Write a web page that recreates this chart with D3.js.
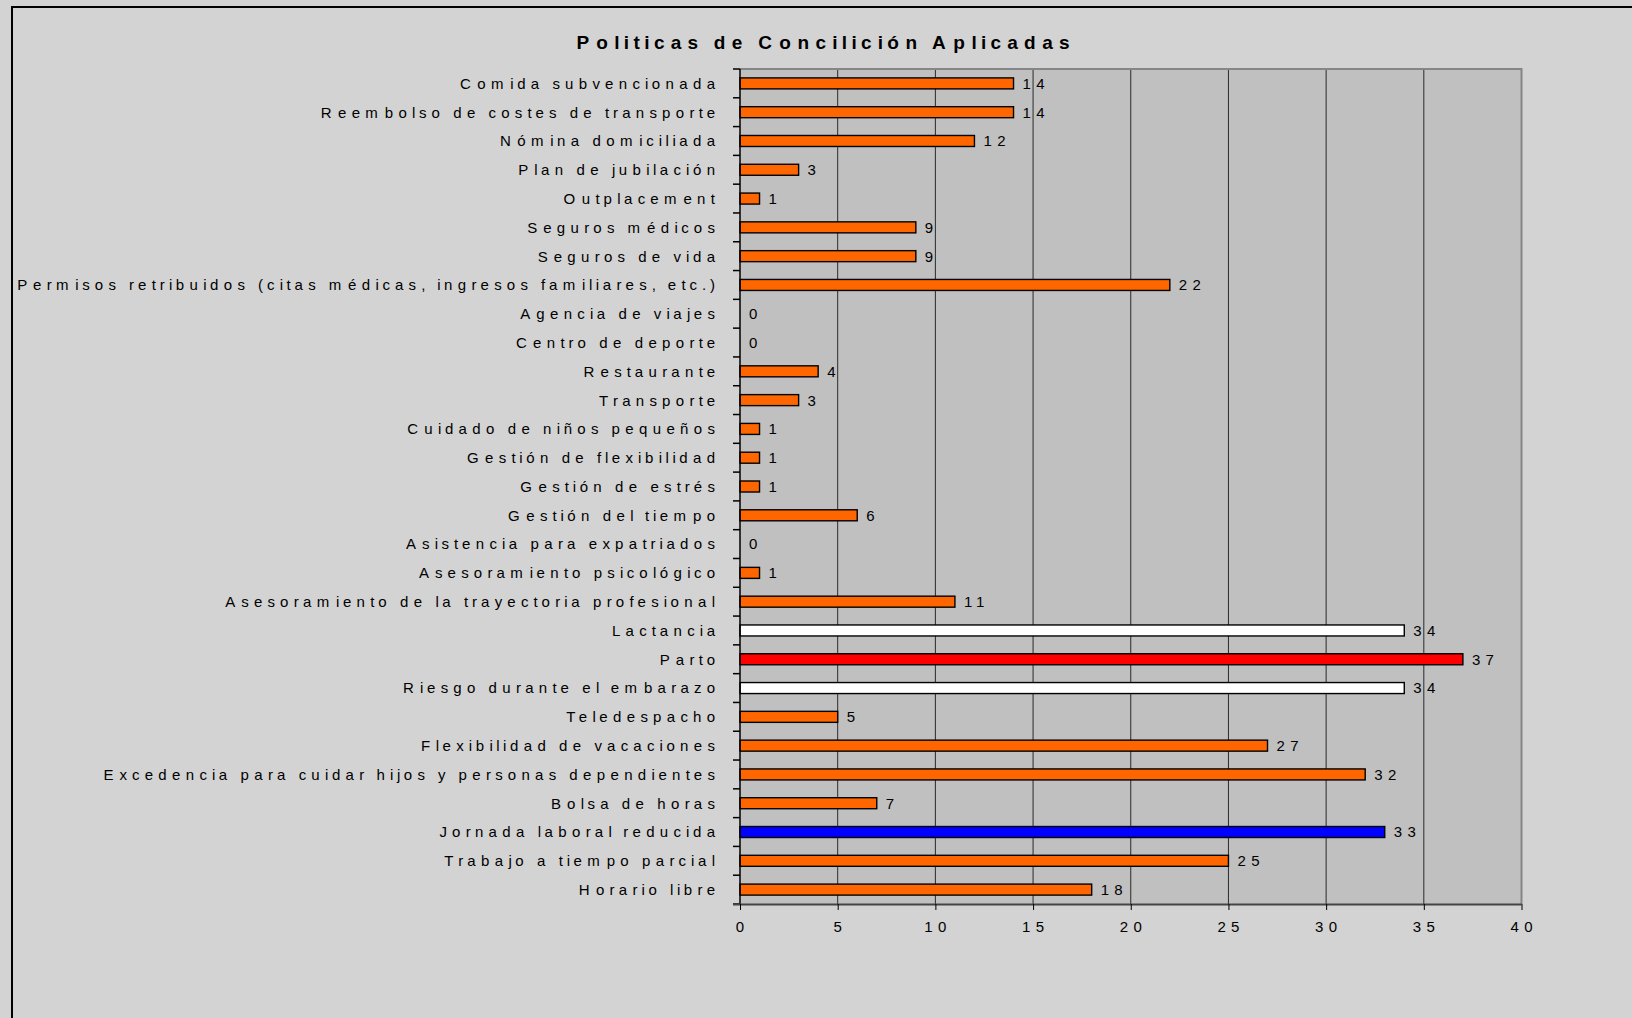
<!DOCTYPE html>
<html>
<head>
<meta charset="utf-8">
<script src="https://cdn.jsdelivr.net/npm/d3@7"></script>
<style>
  html, body { margin: 0; padding: 0; background: #d3d3d3; }
  svg { display: block; }
  text { font-family: "Liberation Sans", Arial, sans-serif; fill: #000; white-space: pre; }
</style>
</head>
<body>
<svg id="chart" width="1632" height="1018"></svg>
<script>
// Policies, listed top to bottom
const categories = [
  "Comida subvencionada",
  "Reembolso de costes de transporte",
  "Nómina domiciliada",
  "Plan de jubilación",
  "Outplacement",
  "Seguros médicos",
  "Seguros de vida",
  "Permisos retribuidos (citas médicas, ingresos familiares, etc.)",
  "Agencia de viajes",
  "Centro de deporte",
  "Restaurante",
  "Transporte",
  "Cuidado de niños pequeños",
  "Gestión de flexibilidad",
  "Gestión de estrés",
  "Gestión del tiempo",
  "Asistencia para expatriados",
  "Asesoramiento psicológico",
  "Asesoramiento de la trayectoria profesional",
  "Lactancia",
  "Parto",
  "Riesgo durante el embarazo",
  "Teledespacho",
  "Flexibilidad de vacaciones",
  "Excedencia para cuidar hijos y personas dependientes",
  "Bolsa de horas",
  "Jornada laboral reducida",
  "Trabajo a tiempo parcial",
  "Horario libre"
];
const values = [14, 14, 12, 3, 1, 9, 9, 22, 0, 0, 4, 3, 1, 1, 1, 6, 0, 1, 11, 34, 37, 34, 5, 27, 32, 7, 33, 25, 18];
const xTicks = [0, 5, 10, 15, 20, 25, 30, 35, 40];
const highlight = {
  "Lactancia": "#ffffff",
  "Parto": "#ff0000",
  "Riesgo durante el embarazo": "#ffffff",
  "Jornada laboral reducida": "#0000ff"
};
const title = "Politicas de Concilición Aplicadas";

const svg = d3.select("#chart");
const plot = { left: 740, right: 1521.5, top: 69, bottom: 904 };
const barH = 11;

// Text is laid out with the advance widths of a larger font plus a fixed
// spacing, while the glyphs themselves are drawn at a smaller size.
const LABEL = { glyph: 15, metric: 20.5, spacing: 2.3, weight: "normal" };
const TITLE = { glyph: 19, metric: 26, spacing: 2.3, weight: "bold" };

const measureLayer = svg.append("g").attr("opacity", 0);
function spacedText(parent, text, x, y, anchor, st) {
  const m = measureLayer.append("text")
    .style("font-size", st.metric + "px").style("font-weight", st.weight)
    .text(text);
  const node = m.node();
  const n = node.getNumberOfChars();
  const starts = [];
  for (let i = 0; i < n; i++) starts.push(node.getStartPositionOfChar(i).x + i * st.spacing);
  const lastAdv = (node.getEndPositionOfChar(n - 1).x - node.getStartPositionOfChar(n - 1).x) * st.glyph / st.metric;
  const total = starts[n - 1] - starts[0] + lastAdv;
  m.remove();
  let x0 = x;
  if (anchor === "end") x0 = x - total;
  else if (anchor === "middle") x0 = x - total / 2;
  return parent.append("text")
    .attr("x", starts.map(s => (x0 + s - starts[0]).toFixed(2)).join(" "))
    .attr("y", y)
    .attr("dy", "0.36em")
    .style("font-size", st.glyph + "px").style("font-weight", st.weight)
    .text(text);
}

const x = d3.scaleLinear().domain([0, 40]).range([plot.left, plot.right]);
const y = d3.scaleBand().domain(categories).range([plot.top, plot.bottom]).padding(0);

// frame of the chart area
svg.append("path")
  .attr("d", `M12,1018 V7 H1632`)
  .attr("fill", "none").attr("stroke", "#000").attr("stroke-width", 2);

// title
spacedText(svg, title, 823, 42, "middle", TITLE);

// plot background
svg.append("rect")
  .attr("x", plot.left).attr("y", plot.top)
  .attr("width", plot.right - plot.left).attr("height", plot.bottom - plot.top)
  .attr("fill", "#c0c0c0");

// vertical gridlines
svg.append("g").selectAll("line")
  .data(xTicks.filter(t => t > 0 && t < 40))
  .join("line")
  .attr("x1", d => x(d)).attr("x2", d => x(d))
  .attr("y1", plot.top).attr("y2", plot.bottom)
  .attr("stroke", "#2a2a2a").attr("stroke-width", 1);

// plot border (top and right)
svg.append("path")
  .attr("d", `M${plot.left},${plot.top} H${plot.right} V${plot.bottom}`)
  .attr("fill", "none").attr("stroke", "#868686").attr("stroke-width", 2);

// bars
const rows = categories.map((c, i) => ({ c, v: values[i] }));
svg.append("g").selectAll("rect")
  .data(rows.filter(d => d.v > 0))
  .join("rect")
  .attr("x", x(0))
  .attr("y", d => y(d.c) + (y.bandwidth() - barH) / 2)
  .attr("width", d => x(d.v) - x(0))
  .attr("height", barH)
  .attr("fill", d => highlight[d.c] || "#ff6600")
  .attr("stroke", "#000").attr("stroke-width", 1.4);

// value labels
const gVals = svg.append("g");
rows.forEach(d => spacedText(gVals, String(d.v), x(d.v) + 9, y(d.c) + y.bandwidth() / 2, "start", LABEL));

// y axis: line, ticks at row boundaries, category labels
const yAxis = svg.append("g");
yAxis.append("line")
  .attr("x1", plot.left).attr("x2", plot.left)
  .attr("y1", plot.top).attr("y2", plot.bottom)
  .attr("stroke", "#000").attr("stroke-width", 1.5);
yAxis.selectAll("line.tick")
  .data(d3.range(categories.length + 1))
  .join("line").attr("class", "tick")
  .attr("x1", plot.left - 7).attr("x2", plot.left)
  .attr("y1", i => plot.top + i * y.step())
  .attr("y2", i => plot.top + i * y.step())
  .attr("stroke", "#000").attr("stroke-width", 1.5);
categories.forEach(c => spacedText(yAxis, c, plot.left - 25, y(c) + y.bandwidth() / 2, "end", LABEL));

// x axis
const xAxis = d3.axisBottom(x).tickValues(xTicks).tickSize(6).tickFormat("");
const gx = svg.append("g").attr("transform", `translate(0,${plot.bottom})`).call(xAxis);
gx.select(".domain").attr("d", `M${plot.left - 7},0.5H${plot.right}`).attr("stroke", "#444").attr("stroke-width", 2);
gx.selectAll(".tick line").attr("stroke", "#000");
gx.selectAll(".tick text").remove();
xTicks.forEach(t => spacedText(svg, String(t), x(t), plot.bottom + 23, "middle", LABEL));
</script>
</body>
</html>
